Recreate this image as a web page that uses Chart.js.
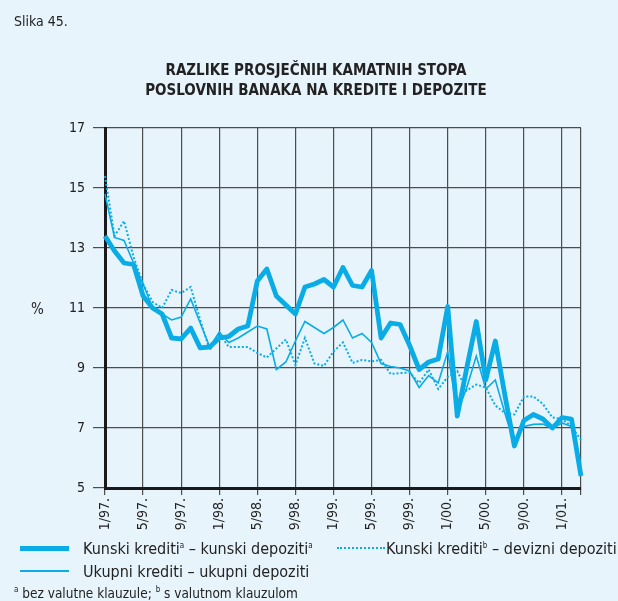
<!DOCTYPE html>
<html>
<head>
<meta charset="utf-8">
<script src="https://cdn.jsdelivr.net/npm/chart.js@4.4.0/dist/chart.umd.min.js"></script>
<style>
  html, body { margin: 0; padding: 0; }
  body {
    width: 618px; height: 601px; position: relative; overflow: hidden;
    background: #e7f4fc; color: #222;
    font-family: 'Liberation Sans Narrow', 'DejaVu Sans Condensed', 'Liberation Sans', Arial, sans-serif;
  }
  #chart { position: absolute; left: 0; top: 0; }
  .txt { position: absolute; white-space: nowrap; line-height: 1; }
  .title { left: 0; width: 632px; text-align: center; font-weight: bold; font-size: 15px; }
  .leg { font-size: 16px; }
  .leg sup, .note sup { font-size: 8px; vertical-align: 6px; }
  .sw { position: absolute; }
</style>
</head>
<body>
<canvas id="chart" width="618" height="601"></canvas>

<div class="txt" style="left:14px;top:14px;font-size:14px;">Slika 45.</div>
<div class="txt title" style="top:63px;">RAZLIKE PROSJEČNIH KAMATNIH STOPA</div>
<div class="txt title" style="top:83px;">POSLOVNIH BANAKA NA KREDITE I DEPOZITE</div>
<div class="txt" style="left:31px;top:302px;font-size:15px;">%</div>

<div class="sw" style="left:20px;top:546px;width:49px;height:5px;background:#0aace6;"></div>
<div class="txt leg" style="left:83px;top:541px;">Kunski krediti<sup>a</sup> – kunski depoziti<sup>a</sup></div>
<div class="sw" style="left:337px;top:547px;width:48px;border-top:2px dotted #0aace6;"></div>
<div class="txt leg" style="left:386px;top:541px;">Kunski krediti<sup>b</sup> – devizni depoziti</div>
<div class="sw" style="left:20px;top:570px;width:49px;height:2px;background:#0aace6;"></div>
<div class="txt leg" style="left:83px;top:564px;">Ukupni krediti – ukupni depoziti</div>
<div class="txt note" style="left:14px;top:586px;font-size:13.5px;"><sup>a</sup> bez valutne klauzule; <sup>b</sup> s valutnom klauzulom</div>

<script>
// months 1/97. .. 3/01.
const months = [];
for (let y = 97; y <= 101; y++) {
  for (let m = 1; m <= 12; m++) {
    if (y === 101 && m > 3) break;
    months.push(m + '/' + String(y % 100).padStart(2, '0') + '.');
  }
}

const yTicks = [5, 7, 9, 11, 13, 15, 17];

// Kunski krediti (a) – kunski depoziti (a)
const kunskiKunski = [
  13.4, 12.9, 12.5, 12.45, 11.4, 11.0, 10.8, 10.0, 9.97, 10.33, 9.67, 9.7,
  10.0, 10.05, 10.3, 10.4, 11.9, 12.3, 11.4, 11.1, 10.8, 11.7, 11.8, 11.95,
  11.7, 12.35, 11.75, 11.7, 12.25, 10.0, 10.5, 10.45, 9.75, 8.95, 9.2, 9.3,
  11.05, 7.4, 9.0, 10.55, 8.6, 9.9, 8.1, 6.4, 7.25, 7.45, 7.3, 7.0,
  7.35, 7.3, 5.4
];

// Ukupni krediti – ukupni depoziti
const ukupni = [
  14.8, 13.35, 13.25, 12.5, 11.8, 11.0, 10.8, 10.6, 10.7, 11.3, 10.5, 9.7,
  10.2, 9.85, 10.0, 10.2, 10.4, 10.3, 8.95, 9.2, 9.9, 10.55, 10.35, 10.15,
  10.35, 10.6, 10.0, 10.15, 9.85, 9.15, 9.05, 9.0, 8.9, 8.35, 8.75, 8.5,
  9.55, 7.5, 8.35, 9.4, 8.3, 8.6, 7.5, 6.45, 7.05, 7.12, 7.13, 6.97,
  7.17, 7.05, 5.4
];

// Kunski krediti (b) – devizni depoziti
const kunskiDevizni = [
  15.4, 13.4, 13.9, 12.7, 11.8, 11.2, 11.0, 11.6, 11.5, 11.7, 10.6, 9.6,
  10.15, 9.7, 9.7, 9.7, 9.5, 9.35, 9.65, 9.95, 9.1, 10.0, 9.15, 9.07,
  9.55, 9.85, 9.17, 9.27, 9.22, 9.27, 8.8, 8.83, 8.85, 8.5, 8.95, 8.3,
  8.7, 8.9, 8.25, 8.45, 8.35, 7.75, 7.5, 7.45, 8.05, 8.05, 7.8, 7.35,
  7.3, 7.05, 6.6
];

const lineColor = '#0aace6';
const gridColor = '#4d4d4d';
const fontFamily = "'Liberation Sans Narrow', 'DejaVu Sans Condensed', 'Liberation Sans', Arial, sans-serif";

// vertical grid only every 4 months, plus the right edge
function everyFourth(ctx) {
  const i = ctx.index;
  return (i % 4 === 0 || i === months.length - 1) ? gridColor : 'rgba(0,0,0,0)';
}

const ctx = document.getElementById('chart').getContext('2d');
new Chart(ctx, {
  type: 'line',
  data: {
    labels: months,
    datasets: [
      { label: 'Kunski krediti – kunski depoziti', data: kunskiKunski,
        borderColor: lineColor, borderWidth: 4.8, borderJoinStyle: 'round' },
      { label: 'Ukupni krediti – ukupni depoziti', data: ukupni,
        borderColor: lineColor, borderWidth: 1.6 },
      { label: 'Kunski krediti – devizni depoziti', data: kunskiDevizni,
        borderColor: lineColor, borderWidth: 2, borderDash: [2, 2] }
    ]
  },
  options: {
    responsive: false,
    animation: false,
    events: [],
    elements: { point: { radius: 0 }, line: { tension: 0, fill: false } },
    layout: { padding: { top: 128, right: 37, bottom: 0, left: 0 } },
    plugins: { legend: { display: false }, title: { display: false }, tooltip: { enabled: false } },
    scales: {
      x: {
        type: 'category',
        offset: false,
        afterFit: s => { s.height = 113; },
        grid: { color: everyFourth, lineWidth: 1.2, tickLength: 7, drawOnChartArea: true },
        border: { display: true, color: '#1a1a1a', width: 3 },
        ticks: {
          autoSkip: false, minRotation: 90, maxRotation: 90, padding: 3,
          color: '#222', font: { family: fontFamily, size: 14 },
          callback: (v, i) => (i % 4 === 0 ? months[i] : '')
        }
      },
      y: {
        min: 5, max: 17,
        afterFit: s => { s.width = 105; },
        afterBuildTicks: s => { s.ticks = yTicks.map(v => ({ value: v })); },
        grid: { color: gridColor, lineWidth: 1.2, tickLength: 12 },
        border: { display: true, color: '#1a1a1a', width: 3 },
        ticks: { padding: 8, color: '#222', font: { family: fontFamily, size: 14 } }
      }
    }
  }
});
</script>
</body>
</html>
